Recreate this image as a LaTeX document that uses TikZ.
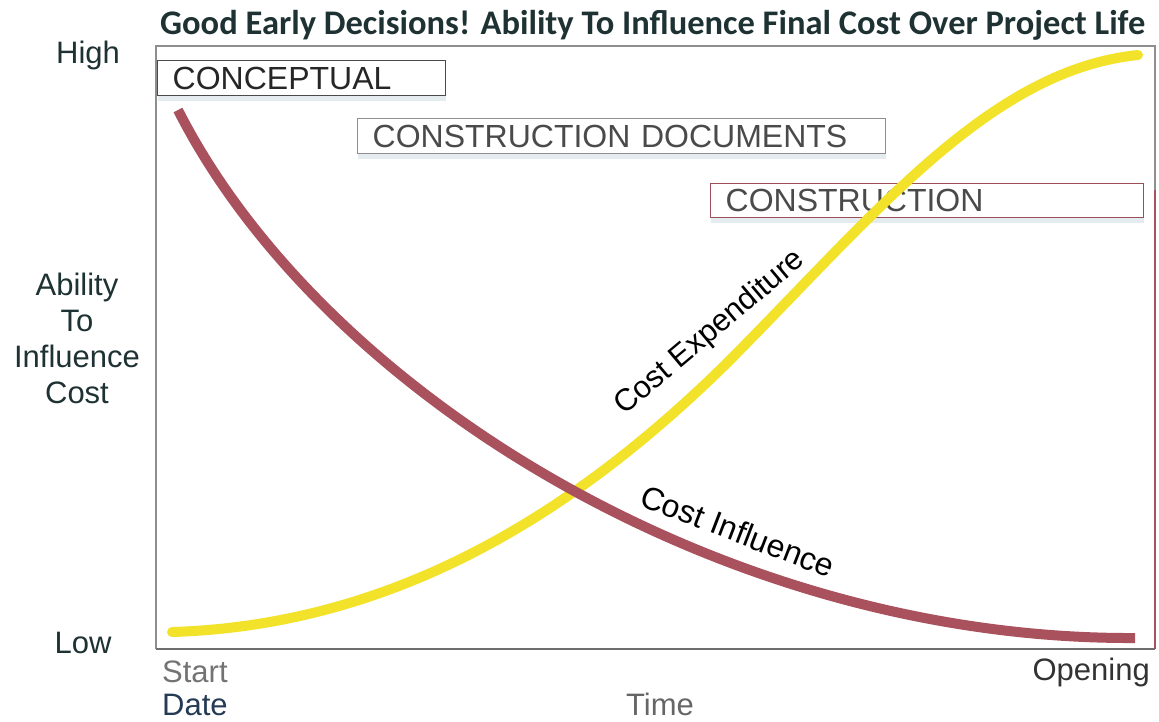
\documentclass[tikz,border=0pt]{standalone}
\usepackage{fontspec}
\setmainfont{Liberation Sans}
\newfontfamily\titlefont{Carlito}
\usetikzlibrary{positioning,shadows}
\definecolor{inflred}{HTML}{A9515C}
\definecolor{spendyellow}{HTML}{F2E22A}
\definecolor{inktext}{HTML}{1F3233}
\definecolor{framegray}{HTML}{8E8E8E}
\definecolor{boxgray}{HTML}{4A4A4A}
\definecolor{boxred}{HTML}{9C4F58}
\definecolor{shadowblue}{HTML}{E4ECEF}
\definecolor{dateblue}{HTML}{243A55}
\tikzset{
  lbl/.style={inner sep=0pt, anchor=base, text=inktext, font=\fontsize{31}{36}\selectfont},
  phase/.style={draw=#1, line width=1.4pt, anchor=north west, inner xsep=15pt, inner ysep=0pt,
    align=left, text=boxgray, font=\fontsize{32}{38}\selectfont,
    drop shadow={shadow xshift=0pt, shadow yshift=-5pt, fill=shadowblue, opacity=1}, fill=white},
  curvelbl/.style={inner sep=0pt, text=black, font=\fontsize{31}{34}\selectfont},
  inflcurve/.style={draw=inflred, line width=10pt, line cap=butt},
  spendcurve/.style={draw=spendyellow, line width=10pt, line cap=round}
}
\begin{document}
\begin{tikzpicture}[x=1pt,y=-1pt]
  \useasboundingbox (0,0) rectangle (1159,721);
  \coordinate (nw) at (156,46);
  \coordinate (ne) at (1155,46);
  \coordinate (sw) at (156,649);
  \coordinate (se) at (1155,649);
  \coordinate (ered) at (1155,190);
  \draw[framegray, line width=1.2pt] (ered) -- (ne) -- (nw) -- (sw);
  \draw[boxgray!80, line width=1.6pt] (sw) -- (se);
  \draw[inflred, line width=1.8pt] (ered) -- (se);

  \node[lbl, anchor=base west] (title) at (160,34)
    {\titlefont\bfseries\fontsize{34.5}{40}\selectfont Good Early Decisions!\hspace{0.3em}Ability To Influence Final Cost Over Project Life};
  \node[lbl] (high) at (88,63) {High};
  \node[lbl, align=center, anchor=north, font=\fontsize{31}{36}\selectfont] (ability) at (77,273) {Ability\\To\\Influence\\Cost};
  \node[lbl] (low) at (83,653) {Low};
  \node[lbl, anchor=base west, text=black!55] (start) at (162,682) {Start};
  \node[lbl, anchor=base west, text=dateblue] (date) at (162,715) {Date};
  \node[lbl, text=black!60] (time) at (660,715) {Time};
  \node[lbl, anchor=base east, text=black!80] (opening) at (1150,680) {Opening};

  \node[phase=boxgray, minimum height=35pt, text width=258pt, text=black!85] (concept) at (157,60) {CONCEPTUAL};
  \node[phase=framegray, minimum height=35pt, text width=498pt] (docs) at (357,118) {CONSTRUCTION DOCUMENTS};
  \node[phase=boxred, minimum height=34pt, text width=403pt] (build) at (710,183) {CONSTRUCTION};

  \coordinate (spend-a) at (172,632);
  \coordinate (spend-m) at (728,362);
  \coordinate (spend-b) at (1138,55);
  \coordinate (infl-a) at (178,110);
  \coordinate (infl-b) at (1135,638);
  \draw[spendcurve] (spend-a) .. controls (400,625) and (580,508) .. (spend-m)
    .. controls (875,214) and (990,70) .. (spend-b);
  \draw[inflcurve] (infl-a) .. controls (320,390) and (720,640) .. (infl-b);

  \node[curvelbl, rotate=40] (spendlbl) at (710,333) {Cost Expenditure};
  \node[curvelbl, rotate=-21, font=\fontsize{32}{36}\selectfont] (infllbl) at (738,531) {Cost Influence};
\end{tikzpicture}
\end{document}
